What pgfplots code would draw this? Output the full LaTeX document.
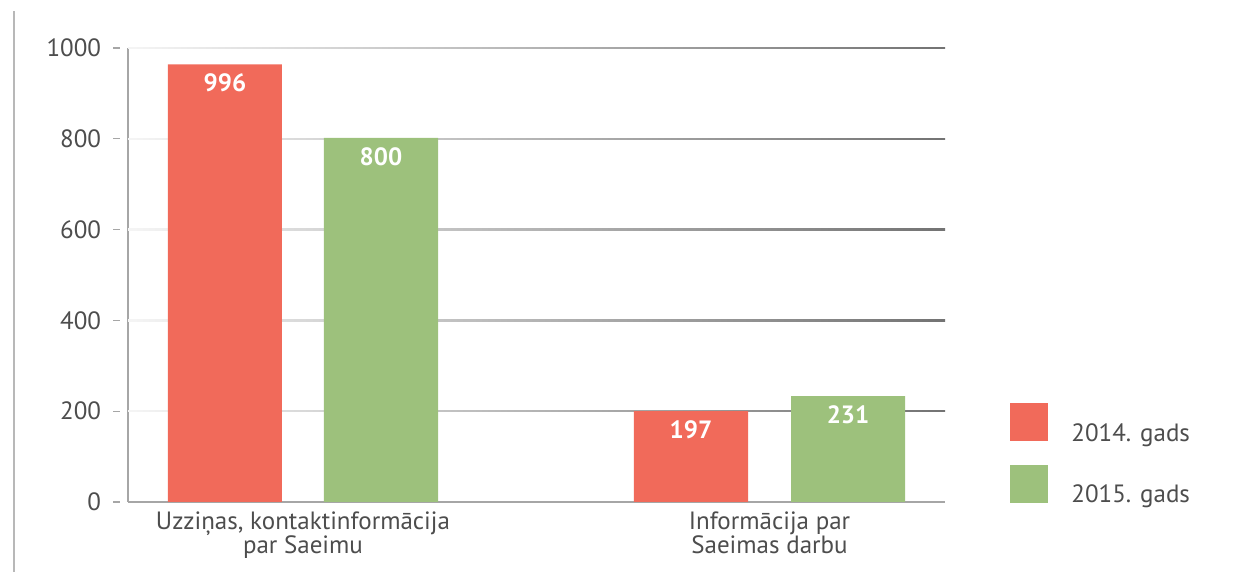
\documentclass[border=0pt]{standalone}
\usepackage{fontspec}
\setmainfont{PT Sans}
\usepackage{pgfplots}
\pgfplotsset{compat=1.18}

\definecolor{barred}{HTML}{F16A5A}
\definecolor{bargreen}{HTML}{9DC17C}
\definecolor{txt}{HTML}{4D4D4D}
\definecolor{axgray}{HTML}{A6A6A6}

\newcommand{\lbl}{\fontsize{12.5}{12}\selectfont}

\pgfplotsset{
  sq/.style={legend image code/.code={\fill[##1,draw=none] (0pt,-3.5pt) rectangle (19pt,15.5pt);}},
}

\begin{document}
\begin{tikzpicture}
\useasboundingbox (0pt,0pt) rectangle (624pt,286pt);
\draw[black!28, line width=0.9pt] (7pt,0pt) -- (7pt,280.5pt);
\begin{axis}[
  at={(64pt,35pt)}, anchor=south west,
  scale only axis, width=408.5pt, height=227pt,
  xmin=-0.3751, xmax=1.3762, ymin=0, ymax=1000,
  axis x line*=bottom, axis y line*=left,
  axis line style={draw=axgray, line width=0.6pt, -},
  clip=false,
  xtick={0,1},
  xticklabels={{Uzziņas, kontaktinformācija\\par Saeimu},{Informācija par\\Saeimas darbu}},
  xtick style={draw=none},
  xticklabel style={align=center, font=\lbl, text=txt, inner sep=0pt, anchor=north, yshift=-1.25pt},
  ytick={0,200,400,600,800,1000},
  tick align=outside, major tick length=3.25pt,
  ytick style={draw=axgray, line width=0.6pt, xshift=-4.25pt},
  yticklabel style={font=\lbl, text=txt, inner sep=0pt, anchor=east, xshift=-10pt},
  /pgf/number format/assume math mode=true,
  /pgf/number format/1000 sep={},
  point meta=explicit symbolic,
  nodes near coords={\pgfplotspointmeta},
  nodes near coords style={anchor=north, inner sep=0pt, yshift=-4.65pt, text=white,
    font=\bfseries\fontsize{12.5}{12}\selectfont},
  legend cell align=left,
  legend style={at={(axis description cs:1.0796,0.2181)}, anchor=north west,
    draw=none, fill=none, inner sep=0pt, column sep=11.5pt, row sep=9.9pt,
    nodes={inner sep=0pt, text=txt, font=\lbl}},
]
% gradient grid lines
\shade[left color=black!4, right color=black!55] (axis cs:-0.3751,198.6) rectangle (axis cs:1.3762,201.4);
\shade[left color=black!4, right color=black!55] (axis cs:-0.3751,398.6) rectangle (axis cs:1.3762,401.4);
\shade[left color=black!4, right color=black!55] (axis cs:-0.3751,598.6) rectangle (axis cs:1.3762,601.4);
\shade[left color=black!4, right color=black!55] (axis cs:-0.3751,798.6) rectangle (axis cs:1.3762,801.4);
\shade[left color=black!4, right color=black!55] (axis cs:-0.3751,998.6) rectangle (axis cs:1.3762,1001.4);

\addplot[ybar, bar shift=0pt, bar width=0.2444, fill=barred, draw=none, sq]
  coordinates {(-0.1672,964) [996] (0.8317,200) [197]};
\addlegendentry{2014. gads}
\addplot[ybar, bar shift=0pt, bar width=0.2444, fill=bargreen, draw=none, sq]
  coordinates {(0.1672,802) [800] (1.1683,233) [231]};
\addlegendentry{2015. gads}
\end{axis}
\end{tikzpicture}
\end{document}
